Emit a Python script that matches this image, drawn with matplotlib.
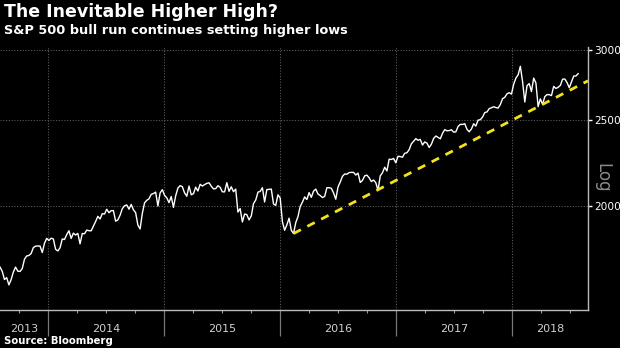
import numpy as np
import pandas as pd
import matplotlib.pyplot as plt
import matplotlib.dates as mdates
from matplotlib.transforms import blended_transform_factory

# S&P 500 weekly closes (Fridays), Aug 2013 - Jul 2018
spx_2013 = [1709.67, 1691.42, 1655.83, 1663.50, 1632.97, 1655.17, 1687.99, 1709.91,
            1691.75, 1690.50, 1703.20, 1744.50, 1759.77, 1761.64, 1770.61, 1798.18,
            1804.76, 1805.81, 1805.09, 1775.32, 1818.32, 1841.40]
spx_2014 = [1831.37, 1842.37, 1838.70, 1790.29, 1782.59, 1797.02, 1838.63, 1836.25,
            1859.45, 1878.04, 1841.13, 1866.52, 1857.62, 1865.09, 1815.69, 1864.85,
            1863.40, 1881.14, 1878.48, 1877.86, 1900.53, 1923.57, 1949.44, 1936.16,
            1962.87, 1960.96, 1985.44, 1967.57, 1978.22, 1978.34, 1925.15, 1931.59,
            1955.06, 1988.40, 2003.37, 2007.71, 1985.54, 2010.40, 1982.85, 1967.90,
            1906.13, 1886.76, 1964.58, 2018.05, 2031.92, 2039.82, 2063.50, 2067.56,
            2075.37, 2002.33, 2070.65, 2088.77]
spx_2015 = [2058.20, 2044.81, 2019.42, 2051.82, 1994.99, 2055.47, 2096.99, 2110.30,
            2104.50, 2071.26, 2053.40, 2108.10, 2061.02, 2066.96, 2102.06, 2081.18,
            2117.69, 2108.29, 2116.10, 2122.73, 2126.06, 2107.39, 2092.83, 2094.11,
            2109.99, 2101.49, 2076.78, 2076.62, 2126.64, 2079.65, 2103.84, 2077.57,
            2091.54, 1970.89, 1988.87, 1921.22, 1961.05, 1958.03, 1931.34, 1951.36,
            2014.89, 2033.11, 2075.15, 2079.36, 2099.20, 2023.04, 2089.17, 2090.11,
            2091.69, 2012.37, 2005.55, 2060.99, 2043.94]
spx_2016 = [1922.03, 1880.33, 1906.90, 1940.24, 1880.05, 1864.78, 1917.78, 1948.05,
            1999.99, 2022.19, 2049.58, 2035.94, 2072.78, 2047.60, 2080.73, 2091.58,
            2065.30, 2057.14, 2046.61, 2052.32, 2099.06, 2099.13, 2096.07, 2071.22,
            2037.41, 2102.95, 2129.90, 2161.74, 2175.03, 2173.60, 2182.87, 2184.05,
            2183.87, 2169.04, 2179.98, 2127.81, 2139.16, 2164.69, 2168.27, 2153.74,
            2132.98, 2141.16, 2126.41, 2085.18, 2164.45, 2181.90, 2213.35, 2191.95,
            2259.53, 2258.07, 2263.79, 2238.83]
spx_2017 = [2276.98, 2274.64, 2271.31, 2294.69, 2297.42, 2316.10, 2351.16, 2367.34,
            2383.12, 2372.60, 2378.25, 2343.98, 2362.72, 2355.54, 2328.95, 2348.69,
            2384.20, 2399.29, 2390.90, 2381.73, 2415.82, 2439.07, 2431.77, 2433.15,
            2438.30, 2423.41, 2425.18, 2459.27, 2472.54, 2472.10, 2476.83, 2441.32,
            2425.55, 2443.05, 2476.55, 2461.43, 2500.23, 2502.22, 2519.36, 2549.33,
            2553.17, 2575.21, 2581.07, 2587.84, 2582.30, 2578.85, 2602.42, 2642.22,
            2651.50, 2675.81, 2683.34, 2673.61]
spx_2018 = [2743.15, 2786.24, 2810.30, 2872.87, 2762.13, 2619.55, 2732.22, 2747.30,
            2691.25, 2786.57, 2752.01, 2588.26, 2640.87, 2604.47, 2656.30, 2670.14,
            2669.91, 2663.42, 2727.72, 2712.97, 2721.33, 2734.62, 2779.03, 2779.66,
            2754.88, 2718.37, 2759.82, 2801.31, 2801.83, 2818.82]

# higher lows the trend line runs through
trend_dates = ['2016-02-12', '2018-03-23']
trend_values = [1864.78, 2588.26]

y_ticks = [2000, 2500, 3000]
years = [2013, 2014, 2015, 2016, 2017, 2018]

spx = spx_2013 + spx_2014 + spx_2015 + spx_2016 + spx_2017 + spx_2018
dates = pd.date_range('2013-08-02', periods=len(spx), freq='W-FRI')
x_start = dates[0]
x_end = pd.Timestamp('2018-08-27')

fig = plt.figure(figsize=(6.2, 3.48), dpi=100, facecolor='black')
ax = fig.add_axes([0, 0.109, 0.9484, 0.756], facecolor='black')

ax.plot(dates, spx, color='white', lw=1.0, zorder=3)

# trend line: straight on the log scale, extended to the right edge
t0 = mdates.date2num(pd.Timestamp(trend_dates[0]))
t1 = mdates.date2num(pd.Timestamp(trend_dates[1]))
slope = (np.log(trend_values[1]) - np.log(trend_values[0])) / (t1 - t0)
te = mdates.date2num(x_end)
end_val = np.exp(np.log(trend_values[0]) + slope * (te - t0))
ax.plot([pd.Timestamp(trend_dates[0]), x_end], [trend_values[0], end_val],
        color='#f2e21c', lw=2.0, dashes=(3, 2.6), zorder=4)

ax.set_yscale('log')
ax.set_ylim(1530, 3020)
ax.set_xlim(x_start, x_end)

ax.yaxis.tick_right()
ax.set_yticks(y_ticks)
ax.set_yticklabels([str(v) for v in y_ticks], family='DejaVu Sans Condensed')
ax.yaxis.set_minor_locator(plt.NullLocator())
ax.tick_params(axis='y', colors='white', labelcolor='white', length=3, width=1,
               pad=1.5, labelsize=7.6)

ax.xaxis.set_major_locator(mdates.YearLocator())
ax.xaxis.set_minor_locator(mdates.MonthLocator(bymonth=[4, 7, 10]))
ax.xaxis.set_major_formatter(plt.NullFormatter())
ax.tick_params(axis='x', which='major', colors='#777777', length=19, width=0.9)
ax.tick_params(axis='x', which='minor', colors='#999999', length=2, width=0.8)

ax.grid(True, axis='both', which='major', color='#5a5a5a', lw=0.8, ls=(0, (1, 1.5)))
ax.set_axisbelow(True)

for side in ['top', 'left']:
    ax.spines[side].set_visible(False)
for side in ['bottom', 'right']:
    ax.spines[side].set_color('#bbbbbb')
    ax.spines[side].set_linewidth(1.0)

# year labels centred in each visible year span
trans = blended_transform_factory(ax.transData, ax.transAxes)
for yr in years:
    a = max(mdates.date2num(pd.Timestamp(f'{yr}-01-01')), mdates.date2num(x_start))
    b = min(mdates.date2num(pd.Timestamp(f'{yr + 1}-01-01')), te)
    ax.text((a + b) / 2, -0.072, str(yr), transform=trans, ha='center', va='center',
            color='#d0d0d0', fontsize=8, family='DejaVu Sans Condensed')

fig.text(0.972, 0.49, 'Log', rotation=270, color='#8a8a8a', fontsize=12,
         ha='center', va='center')

fig.text(0.006, 0.965, 'The Inevitable Higher High?', color='white', fontsize=12.5,
         fontweight='bold', ha='left', va='center')
fig.text(0.006, 0.912, 'S&P 500 bull run continues setting higher lows', color='white',
         fontsize=9.3, fontweight='bold', ha='left', va='center')
fig.text(0.006, 0.02, 'Source: Bloomberg', color='white', fontsize=7.3,
         fontweight='bold', ha='left', va='center')

fig.savefig('out.png', dpi=100, facecolor='black')
